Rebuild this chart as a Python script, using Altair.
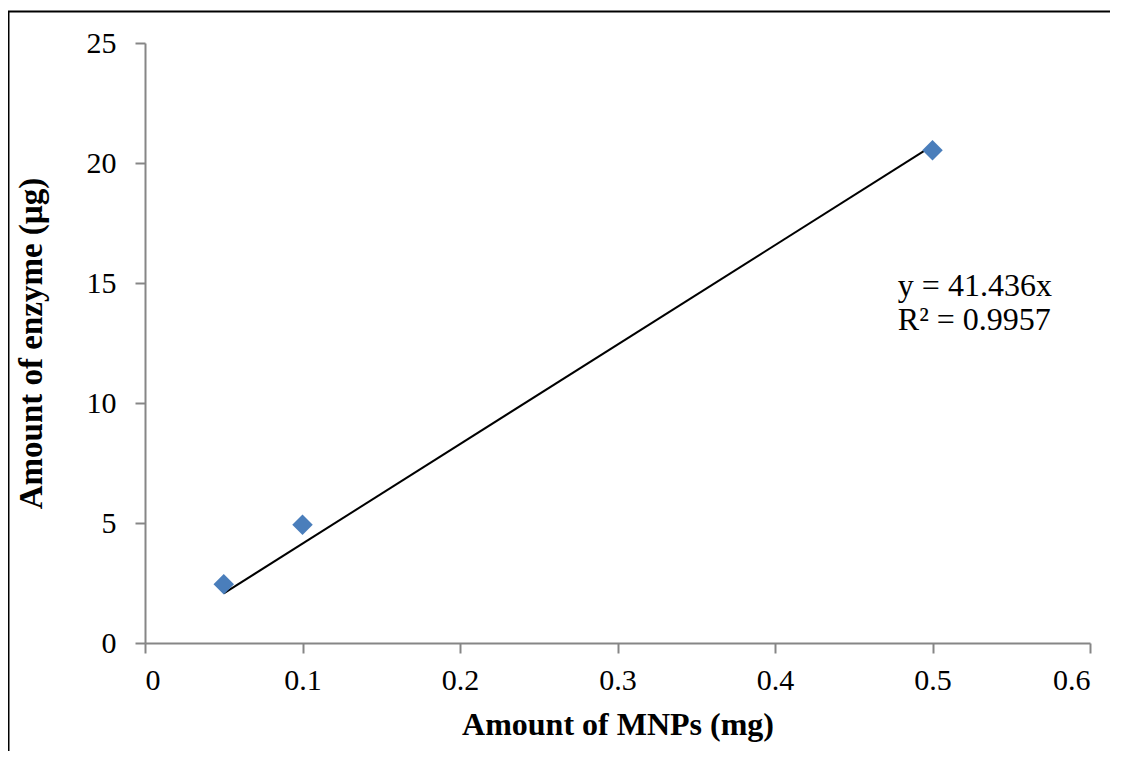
import altair as alt
import pandas as pd

# Data
mnp_mg = [0.05, 0.1, 0.5]
enzyme_ug = [2.45, 4.93, 20.53]

trend_x = [0.05, 0.5]
trend_y = [2.07, 20.72]

eq_lines = ["y = 41.436x", "R² = 0.9957"]
eq_pos = {"x": 0.478, "y": 14.46}

x_ticks = [0, 0.1, 0.2, 0.3, 0.4, 0.5, 0.6]
y_ticks = [0, 5, 10, 15, 20, 25]

pts = pd.DataFrame({"x": mnp_mg, "y": enzyme_ug})
trend = pd.DataFrame({"x": trend_x, "y": trend_y})

FONT = "Liberation Serif"
AX = "#868686"

x_scale = alt.Scale(domain=[0, 0.6], nice=False, zero=True)
y_scale = alt.Scale(domain=[0, 25], nice=False, zero=True)

x_axis = alt.Axis(
    title="Amount of MNPs (mg)", values=x_ticks, format="~g", grid=False,
    domainColor=AX, domainWidth=2, tickColor=AX, tickWidth=2, tickSize=10,
    labelFont=FONT, labelFontSize=30, labelColor="black", labelPadding=12,
    titleFont=FONT, titleFontSize=32, titleFontWeight="bold", titleColor="black",
    titlePadding=14,
)
y_axis = alt.Axis(
    title="Amount of enzyme (µg)", values=y_ticks, format="~g", grid=False,
    domainColor=AX, domainWidth=2, tickColor=AX, tickWidth=2, tickSize=10,
    labelFont=FONT, labelFontSize=30, labelColor="black", labelPadding=19,
    titleFont=FONT, titleFontSize=33, titleFontWeight="bold", titleColor="black",
    titlePadding=38,
)

line = alt.Chart(trend).mark_line(color="black", strokeWidth=2).encode(
    x=alt.X("x:Q", scale=x_scale, axis=x_axis),
    y=alt.Y("y:Q", scale=y_scale, axis=y_axis),
)

points = alt.Chart(pts).mark_point(
    shape="diamond", filled=True, color="#4A7EBB", size=420, opacity=1
).encode(x="x:Q", y="y:Q")

eq = alt.Chart(pd.DataFrame({"t": [eq_lines]})).mark_text(
    align="left", baseline="alphabetic", font=FONT, fontSize=32,
    lineHeight=34.5, color="black"
).encode(
    x=alt.datum(eq_pos["x"]), y=alt.datum(eq_pos["y"]), text="t:N"
)

border = alt.Chart(pd.DataFrame({"a": [0]})).mark_rect(
    fill=None, fillOpacity=0, stroke="black", strokeWidth=2
).encode(
    x=alt.value(-136.5), x2=alt.value(2000),
    y=alt.value(-31.5), y2=alt.value(2000),
)

chart = alt.layer(border, line, points, eq).properties(
    width=945, height=600,
    autosize=alt.AutoSizeParams(type="none"),
    padding={"left": 137, "top": 35, "right": 20, "bottom": 108},
    background="white",
).configure_view(stroke=None)

chart.save("out.html", embed_options={"renderer": "svg", "actions": False})
